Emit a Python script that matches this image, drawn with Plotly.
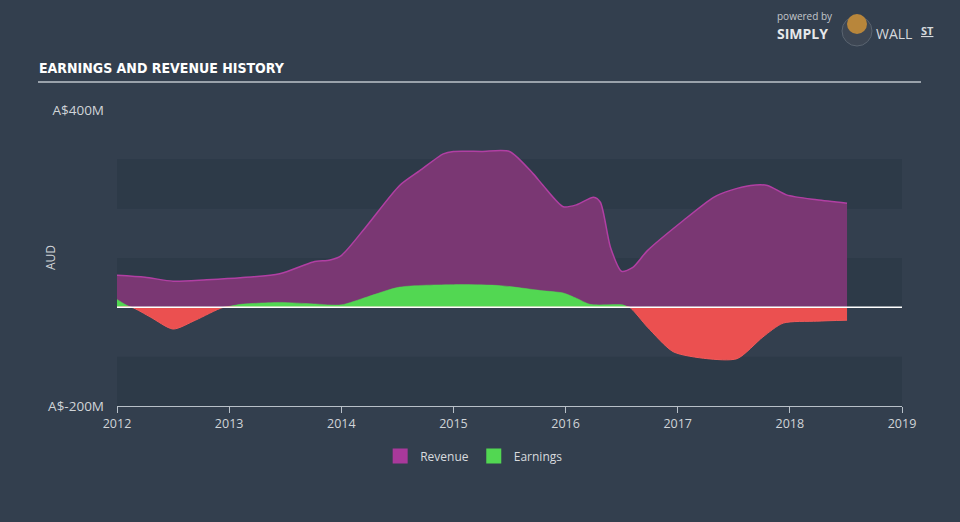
import plotly.graph_objects as go
import numpy as np

# ---- data (A$ millions) ----
rev_x = [2012.0, 2012.25, 2012.5, 2012.8, 2013.1, 2013.45, 2013.75, 2013.9, 2014.0, 2014.23, 2014.52,
         2014.7, 2014.91, 2015.0, 2015.25, 2015.5, 2015.71, 2015.8, 2015.98, 2016.1, 2016.25, 2016.31,
         2016.4, 2016.5, 2016.6, 2016.73, 2017.05, 2017.32, 2017.47, 2017.65, 2017.8, 2017.97,
         2018.24, 2018.51]
rev_y = [65, 61, 53, 56, 60, 68, 92, 96, 105, 166, 247,
         277, 311, 316, 316, 316, 271, 247, 204, 208, 223, 213,
         122, 73, 81, 115, 176, 223, 237, 247, 247, 228,
         218, 211]

earn_x = [2012.0, 2012.13, 2012.3, 2012.5, 2012.7, 2012.95, 2013.1, 2013.45, 2013.75, 2014.0, 2014.23,
          2014.52, 2015.0, 2015.42, 2015.78, 2015.98, 2016.1, 2016.22, 2016.51, 2016.57, 2016.73,
          2016.96, 2017.26, 2017.53, 2017.76, 2017.94, 2018.24, 2018.51]
earn_y = [16, 0, -20, -44, -26, 0, 6, 10, 7, 5, 21,
          41, 46, 44, 34, 29, 18, 6, 5, 0, -40,
          -90, -104, -104, -60, -32, -28, -26]

year_ticks = [2012, 2013, 2014, 2015, 2016, 2017, 2018, 2019]
y_tick_vals = [-200, 400]
y_tick_text = ["A$-200M", "A$400M"]

# ---- layout geometry helpers ----
L, R, T, B = 117, 902, 110, 406
def px(x):
    return (x - L) / (R - L)
def py(y):
    return (B - y) / (B - T)

BG = "#333f4e"
BAND = "#2d3a48"
REV_FILL = "#7a3773"
REV_LINE = "#b13fa3"
GREEN = "#52d752"
RED = "#eb5050"

earn = np.array(earn_y, dtype=float)
pos = np.maximum(earn, 0)
neg = np.minimum(earn, 0)

fig = go.Figure()
fig.add_trace(go.Scatter(x=rev_x, y=rev_y, mode="lines", fill="tozeroy",
                         fillcolor=REV_FILL, line=dict(color=REV_LINE, width=1.5, shape="spline", smoothing=0.7),
                         showlegend=False, hoverinfo="skip"))
fig.add_trace(go.Scatter(x=earn_x, y=pos, mode="lines", fill="tozeroy",
                         fillcolor=GREEN, line=dict(color=GREEN, width=0.5, shape="spline", smoothing=0.7),
                         showlegend=False, hoverinfo="skip"))
fig.add_trace(go.Scatter(x=earn_x, y=neg, mode="lines", fill="tozeroy",
                         fillcolor=RED, line=dict(color="#f05a5a", width=1, shape="spline", smoothing=0.7),
                         showlegend=False, hoverinfo="skip"))

# legend-only entries
fig.add_trace(go.Scatter(x=[None], y=[None], mode="markers", name="Revenue",
                         marker=dict(symbol="square", size=15, color="#a9399b")))
fig.add_trace(go.Scatter(x=[None], y=[None], mode="markers", name="Earnings",
                         marker=dict(symbol="square", size=15, color=GREEN)))

shapes = []
for lo, hi in [(200, 300), (0, 100), (-200, -100)]:
    shapes.append(dict(type="rect", xref="paper", yref="y", x0=0, x1=1, y0=lo, y1=hi,
                       fillcolor=BAND, line=dict(width=0), layer="below"))
shapes.append(dict(type="line", xref="paper", yref="y", x0=0, x1=1, y0=0, y1=0,
                   line=dict(color="white", width=1.5), layer="above"))
# title underline
shapes.append(dict(type="line", xref="paper", yref="paper", x0=px(38), x1=px(921), y0=py(82), y1=py(82),
                   line=dict(color="#9aa2ab", width=2)))
# logo circle
shapes.append(dict(type="circle", xref="paper", yref="paper", x0=px(842), x1=px(872), y0=py(46), y1=py(16),
                   fillcolor="#3d4653", line=dict(color="#5a6470", width=1)))
shapes.append(dict(type="circle", xref="paper", yref="paper", x0=px(847), x1=px(867), y0=py(34), y1=py(14),
                   fillcolor="#b8863b", line=dict(width=0)))

annotations = [
    dict(text="EARNINGS AND REVENUE HISTORY", xref="paper", yref="paper", x=px(37), y=py(68),
         xanchor="left", yanchor="middle", showarrow=False,
         font=dict(family="Liberation Sans Narrow, Arial Narrow, DejaVu Sans Condensed, sans-serif",
                   size=14, color="white", weight="bold")),
    dict(text="AUD", xref="paper", yref="paper", x=px(50), y=py(258), textangle=-90,
         xanchor="center", yanchor="middle", showarrow=False,
         font=dict(family="Open Sans", size=12, color="#d0d4d8")),
    dict(text="powered by", xref="paper", yref="paper", x=px(775), y=py(16), xanchor="left", yanchor="middle",
         showarrow=False, font=dict(family="Open Sans", size=10, color="#c3c7cc")),
    dict(text="<b>SIMPLY</b>", xref="paper", yref="paper", x=px(775), y=py(33), xanchor="left", yanchor="middle",
         showarrow=False, font=dict(family="Open Sans", size=14, color="#e6e8ea")),
    dict(text="WALL", xref="paper", yref="paper", x=px(874), y=py(33), xanchor="left", yanchor="middle",
         showarrow=False, font=dict(family="Open Sans", size=14, color="#d6d9dc")),
    dict(text="<b><u>ST</u></b>", xref="paper", yref="paper", x=px(919), y=py(30), xanchor="left", yanchor="middle",
         showarrow=False, font=dict(family="Open Sans", size=11, color="#d6d9dc")),
]

fig.update_layout(
    width=960, height=522,
    margin=dict(l=L, r=960 - R, t=T, b=522 - B),
    paper_bgcolor=BG, plot_bgcolor="rgba(0,0,0,0)",
    shapes=shapes, annotations=annotations,
    showlegend=True,
    legend=dict(orientation="h", x=0.455, xanchor="center", y=py(456), yanchor="middle",
                font=dict(family="Open Sans", size=12, color="#d8dbde"), bgcolor="rgba(0,0,0,0)",
                itemwidth=30),
    xaxis=dict(range=[2012, 2019], tickvals=year_ticks, ticktext=[str(v) for v in year_ticks],
               showgrid=False, zeroline=False, showline=True, linecolor="#b8c0c8", linewidth=1,
               ticks="outside", ticklen=6, tickcolor="#b8c0c8",
               tickfont=dict(family="Open Sans", size=12.5, color="#d0d4d8")),
    yaxis=dict(range=[-200, 400], tickvals=y_tick_vals, ticktext=y_tick_text,
               showgrid=False, zeroline=False, showline=False, ticks="", ticklabelstandoff=12,
               tickfont=dict(family="Open Sans", size=13.5, color="#d0d4d8")),
)

fig.write_html("out.html")
